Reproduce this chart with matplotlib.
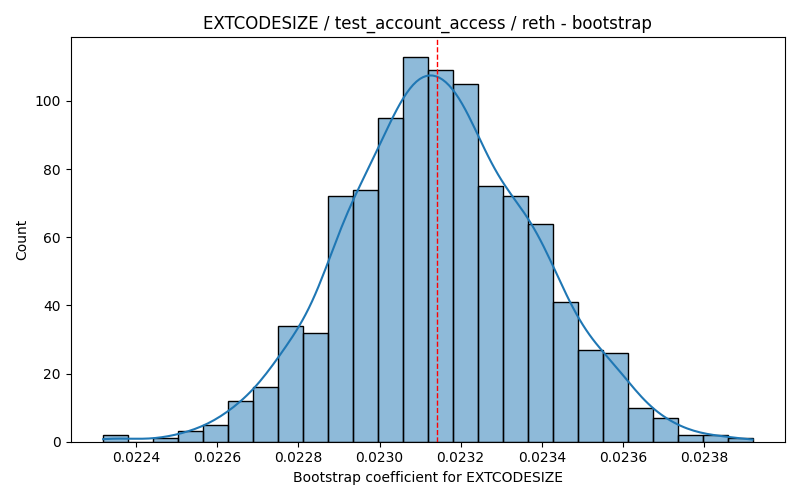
import numpy as np
import pandas as pd
import matplotlib
matplotlib.use("Agg")
import matplotlib.pyplot as plt
import seaborn as sns

# Histogram bin range (26 equal bins) and counts
bin_start = 0.0223186
bin_end = 0.0239195
n_bins = 26
counts = [2, 0, 1, 3, 5, 12, 16, 34, 32, 72, 74, 95, 113, 109, 105,
          75, 72, 64, 41, 27, 26, 10, 7, 2, 2, 1]
point_estimate = 0.0231425

title = "EXTCODESIZE / test_account_access / reth - bootstrap"
xlabel = "Bootstrap coefficient for EXTCODESIZE"
ylabel = "Count"
xticks = [0.0224, 0.0226, 0.0228, 0.0230, 0.0232, 0.0234, 0.0236, 0.0238]
xticklabels = ["0.0224", "0.0226", "0.0228", "0.0230", "0.0232",
               "0.0234", "0.0236", "0.0238"]

edges = np.linspace(bin_start, bin_end, n_bins + 1)
centers = (edges[:-1] + edges[1:]) / 2
weights = np.array(counts, dtype=float)
binwidth = edges[1] - edges[0]

# Gaussian KDE (Scott's rule on the full sample size), scaled to counts
n = weights.sum()
mean = np.sum(centers * weights) / n
var = np.sum(weights * (centers - mean) ** 2) / (n - 1)
std = np.sqrt(max(var - binwidth ** 2 / 12, 1e-20))
bw = std * n ** (-1 / 5)
grid = np.linspace(bin_start, bin_end, 200)
dens = np.sum(weights[None, :] * np.exp(-0.5 * ((grid[:, None] - centers[None, :]) / bw) ** 2),
              axis=1) / (n * bw * np.sqrt(2 * np.pi))
kde_counts = dens * n * binwidth

df = pd.DataFrame({"value": centers, "w": weights})

fig, ax = plt.subplots(figsize=(8, 5), dpi=100)
sns.histplot(data=df, x="value", weights="w", bins=n_bins,
             binrange=(bin_start, bin_end), alpha=0.5, ax=ax)
ax.plot(grid, kde_counts, color="C0", linewidth=1.5)
ax.axvline(point_estimate, color="red", linestyle="--", linewidth=1)
ax.set_xticks(xticks)
ax.set_xticklabels(xticklabels)
ax.set_title(title)
ax.set_xlabel(xlabel)
ax.set_ylabel(ylabel)
fig.tight_layout()
fig.savefig("out.png", dpi=100)
